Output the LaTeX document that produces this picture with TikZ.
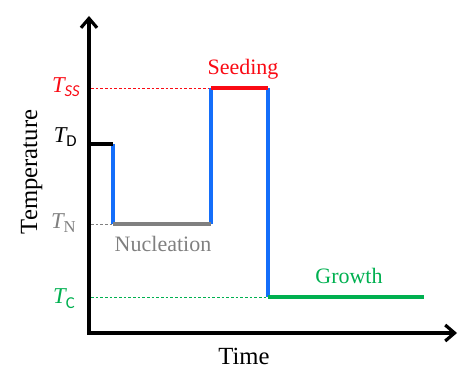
\documentclass[tikz,border=0pt]{standalone}
\usepackage{fontspec}
\setmainfont{Liberation Serif}
\newfontfamily\calib{Carlito}
\usetikzlibrary{arrows.meta}
\definecolor{rampblue}{RGB}{20,110,250}
\definecolor{seedred}{RGB}{250,10,20}
\definecolor{growgreen}{RGB}{0,176,80}
\definecolor{nucgray}{RGB}{128,128,128}
\newcommand{\tlevel}[1]{{\fontsize{17}{18}\selectfont\itshape T}\raisebox{-3pt}{\fontsize{12.5}{13}\selectfont #1}}

\begin{document}
\begin{tikzpicture}[x=0.75pt,y=-0.75pt]
\tikzstyle{every node}=[inner sep=0pt]
\tikzstyle{axis}=[line width=2.4pt, {Straight Barb[length=7pt,width=12pt]}-{Straight Barb[length=7pt,width=12pt]}]
\tikzstyle{ramp}=[line width=3.3pt, rampblue]
\tikzstyle{hold}=[line width=3.3pt]
\tikzstyle{guide}=[line width=0.5pt, dash pattern=on 2pt off 1.5pt]
\tikzstyle{phase}=[anchor=base, font=\fontsize{16.5}{18}\selectfont]
\tikzstyle{title}=[anchor=base, font=\fontsize{18.5}{20}\selectfont]
\useasboundingbox (0,0) rectangle (474,384);
% axes
\coordinate (o) at (89,333);
\coordinate (ytop) at (89,16);
\coordinate (xend) at (457,333);
\draw[axis] (ytop) -- (o) -- (xend);
% temperature profile
\coordinate (d1) at (89,144);
\coordinate (d2) at (113,144);
\coordinate (n1) at (113,224);
\coordinate (n2) at (211,224);
\coordinate (s1) at (211,88);
\coordinate (s2) at (268,88);
\coordinate (g1) at (268,297);
\coordinate (g2) at (424,297);
\coordinate (lss) at (91,88);
\coordinate (ln) at (91,224);
\coordinate (lc) at (91,297);
\draw[guide, seedred] (lss) -- (s1);
\draw[guide, nucgray] (ln) -- (n1);
\draw[guide, growgreen] (lc) -- (g1);
\draw[ramp] (d2) -- (n1);
\draw[ramp] (n2) -- (s1);
\draw[ramp] (s2) -- (g1);
\draw[hold, black] (d1) -- (d2);
\draw[hold, nucgray] (n1) -- (n2);
\draw[hold, seedred] (s1) -- (s2);
\draw[hold, growgreen] (g1) -- (g2);
% labels
\node[anchor=base east, seedred] (tss) at (80,93) {\tlevel{\calib\itshape SS}};
\node[anchor=base east] (td) at (77,143) {\tlevel{\calib D}};
\node[anchor=base east, nucgray] (tn) at (76,229) {\tlevel{N}};
\node[anchor=base east, growgreen] (tc) at (75,304) {\tlevel{\calib C}};
\node[phase, seedred] (seed) at (243,75) {Seeding};
\node[phase, nucgray] (nuc) at (163,252) {Nucleation};
\node[phase, growgreen] (grow) at (349,283) {Growth};
\node[title] (time) at (244,364) {Time};
\node[title, rotate=90] (temp) at (37,172) {Temperature};
\end{tikzpicture}
\end{document}
